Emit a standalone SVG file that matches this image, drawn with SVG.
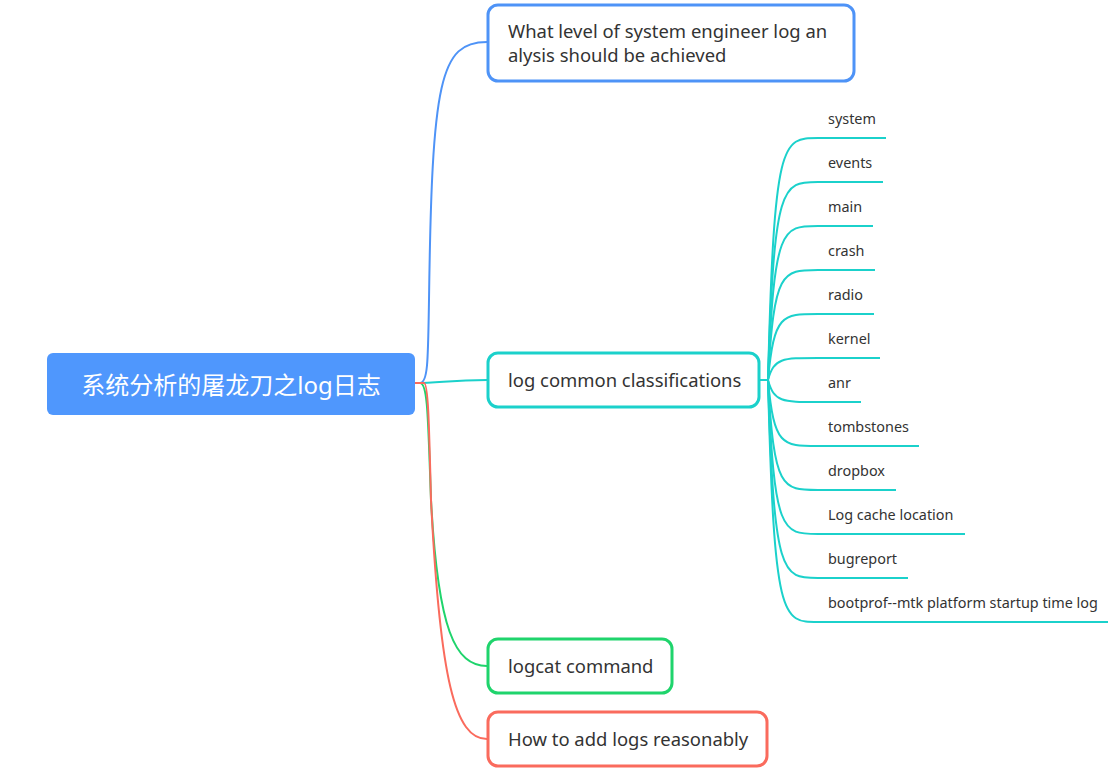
<svg xmlns="http://www.w3.org/2000/svg" width="1108" height="773" viewBox="0 0 1108 773">
<style>
.t{font-family:"Noto Sans","Noto Sans CJK SC",sans-serif;fill:#333;}
.n{font-size:18.45px;}
.l{font-size:14.4px;}
.c{fill:none;stroke-width:2;}
.box{fill:#fff;stroke-width:3;}
.teal{stroke:#1bd1cb;}
</style>
<rect width="1108" height="773" fill="#fff"/>
<g id="connectors">
<path class="c" stroke="#4e93f7" d="M420,383 C428,383 428,360 429,300 C432,80 440,42 487,42"/>
<path class="c teal" d="M415,383 C440,383 450,380 487,380"/>
<path class="c" stroke="#1fd46c" d="M420,383 C428,383 428,420 431,500 C438,630 455,666 487,666"/>
<path class="c" stroke="#fa6b5d" d="M415,383 L424,383 C428,383 429,420 431,500 C440,680 455,739 487,739"/>
<g class="teal">
<path class="c" d="M759,380 L768,380"/>
<path class="c" d="M768,380 C774,138 782,138 818,138 L886,138"/>
<path class="c" d="M768,380 C774,182 782,182 818,182 L883,182"/>
<path class="c" d="M768,380 C774,226 782,226 818,226 L873,226"/>
<path class="c" d="M768,380 C774,270 782,270 818,270 L875,270"/>
<path class="c" d="M768,380 C774,314 782,314 818,314 L874,314"/>
<path class="c" d="M768,380 C774,358 782,358 818,358 L880,358"/>
<path class="c" d="M768,380 C774,402 782,402 818,402 L861,402"/>
<path class="c" d="M768,380 C774,446 782,446 818,446 L919,446"/>
<path class="c" d="M768,380 C774,490 782,490 818,490 L896,490"/>
<path class="c" d="M768,380 C774,534 782,534 818,534 L965,534"/>
<path class="c" d="M768,380 C774,578 782,578 818,578 L908,578"/>
<path class="c" d="M768,380 C774,622 782,622 818,622 L1108,622"/>
</g>
</g>
<g id="root">
<rect x="47" y="353" width="368" height="62" rx="6" fill="#4f97fd"/>
<text class="t" x="231" y="394" font-size="24" text-anchor="middle" style="fill:#fff">系统分析的屠龙刀之log日志</text>
</g>
<g id="n1">
<rect class="box" x="488" y="5" width="366" height="76" rx="10" stroke="#4e93f7"/>
<text class="t n" x="508" y="38">What level of system engineer log an</text>
<text class="t n" x="508" y="62">alysis should be achieved</text>
</g>
<g id="n2">
<rect class="box teal" x="488" y="353" width="271" height="54" rx="10"/>
<text class="t n" x="508" y="387">log common classifications</text>
</g>
<g id="n3">
<rect class="box" x="488" y="639" width="184" height="54" rx="10" stroke="#1fd46c"/>
<text class="t n" x="508" y="673">logcat command</text>
</g>
<g id="n4">
<rect class="box" x="488" y="712" width="279" height="54" rx="10" stroke="#fa6b5d"/>
<text class="t n" x="508" y="746">How to add logs reasonably</text>
</g>
<g id="leaves">
<text class="t l" x="828" y="124">system</text>
<text class="t l" x="828" y="168">events</text>
<text class="t l" x="828" y="212">main</text>
<text class="t l" x="828" y="256">crash</text>
<text class="t l" x="828" y="300">radio</text>
<text class="t l" x="828" y="344">kernel</text>
<text class="t l" x="828" y="388">anr</text>
<text class="t l" x="828" y="432">tombstones</text>
<text class="t l" x="828" y="476">dropbox</text>
<text class="t l" x="828" y="520">Log cache location</text>
<text class="t l" x="828" y="564">bugreport</text>
<text class="t l" x="828" y="608">bootprof--mtk platform startup time log</text>
</g>
</svg>
